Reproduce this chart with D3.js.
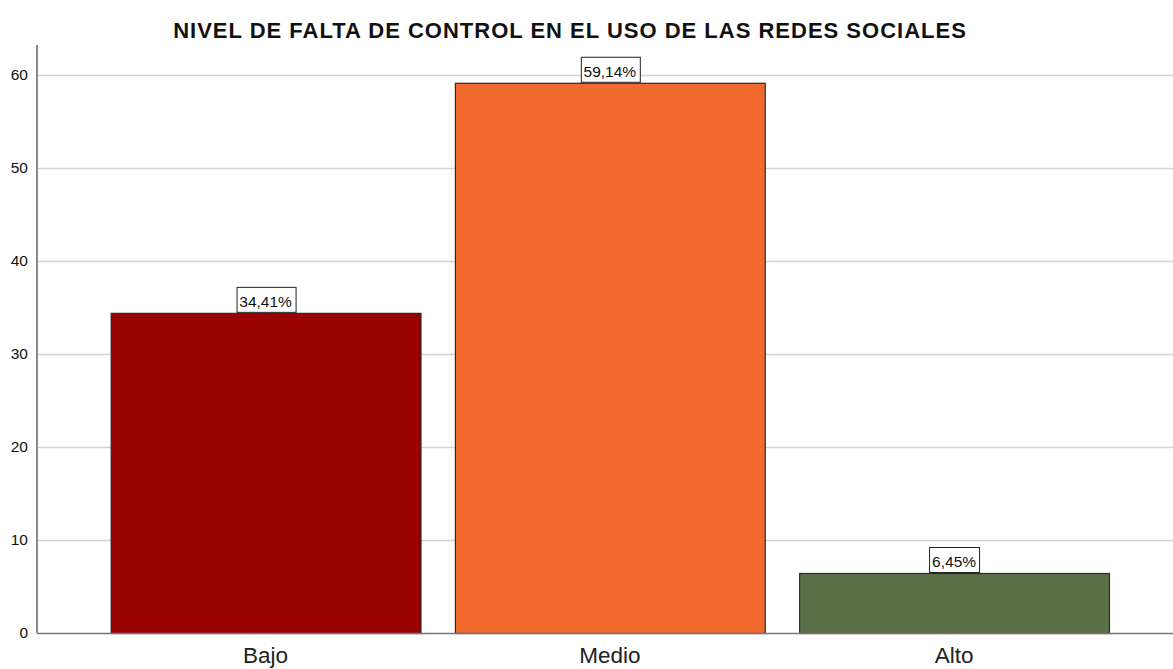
<!DOCTYPE html>
<html><head><meta charset="utf-8">
<script src="https://cdn.jsdelivr.net/npm/d3@7"></script>
<style>body{margin:0;background:#fff}svg{display:block}</style>
</head><body>
<svg id="c" width="1173" height="669"></svg>
<script>
const categories = ["Bajo", "Medio", "Alto"];
const values = [34.41, 59.14, 6.45];
const labels = ["34,41%", "59,14%", "6,45%"];
const colors = ["#990000", "#f26a2d", "#5b7047"];
const yTicks = [0, 10, 20, 30, 40, 50, 60];
const title = "NIVEL DE FALTA DE CONTROL EN EL USO DE LAS REDES SOCIALES";

(function() {
const svg = d3.select("#c");
const FONT = "Arial, 'Liberation Sans', sans-serif";
const pL = 37, pR = 1173, pT = 45, pB = 633;
const x = d3.scaleBand().domain(categories).range([pL, pR]).paddingInner(0.1).paddingOuter(0.2).align(0.535);
const y = d3.scaleLinear().domain([0, 63.2]).range([pB, pT]);

// gridlines
svg.append("g").selectAll("line").data(yTicks.filter(d => d > 0)).join("line")
  .attr("x1", pL).attr("x2", pR)
  .attr("y1", d => Math.round(y(d)) + 0.5).attr("y2", d => Math.round(y(d)) + 0.5)
  .attr("stroke", "#d4d4d4").attr("stroke-width", 1.5);

// y axis
const ya = svg.append("g").attr("transform", `translate(${pL},0)`)
  .call(d3.axisLeft(y).tickValues(yTicks).tickSize(0).tickPadding(9));
ya.select(".domain").remove();
ya.selectAll("text").attr("font-family", FONT).attr("font-size", 15.5).attr("fill", "#111");
svg.append("line").attr("x1", pL).attr("x2", pL).attr("y1", pT).attr("y2", pB)
  .attr("stroke", "#888").attr("stroke-width", 2);

// bars
svg.append("g").selectAll("rect").data(values).join("rect")
  .attr("x", (d, i) => x(categories[i]) + 0.5)
  .attr("y", d => y(d) + 0.5)
  .attr("width", x.bandwidth())
  .attr("height", d => y(0) - y(d))
  .attr("fill", (d, i) => colors[i])
  .attr("stroke", "#2a2a2a").attr("stroke-width", 1.2);

// baseline
svg.append("line").attr("x1", pL).attr("x2", pR).attr("y1", pB + 0.5).attr("y2", pB + 0.5)
  .attr("stroke", "#777").attr("stroke-width", 1.5);

// x axis labels
const xa = svg.append("g").attr("transform", `translate(0,${pB})`)
  .call(d3.axisBottom(x).tickSize(0).tickPadding(0));
xa.select(".domain").remove();
xa.selectAll("text").attr("dy", null).attr("y", 30).attr("font-family", FONT).attr("font-size", 22.5).attr("fill", "#222");

// value labels with boxes
const lg = svg.append("g").selectAll("g").data(values).join("g")
  .attr("transform", (d, i) => `translate(${x(categories[i]) + x.bandwidth() / 2},${y(d)})`);
lg.each(function(d, i) {
  const g = d3.select(this);
  const t = g.append("text").text(labels[i])
    .attr("font-family", FONT).attr("font-size", 15.5)
    .attr("text-anchor", "middle").attr("y", -6).attr("fill", "#111");
  const bb = t.node().getBBox();
  g.insert("rect", "text").attr("x", Math.round(bb.x - 3) + 0.5).attr("y", -25.5)
    .attr("width", Math.round(bb.width + 6)).attr("height", 25)
    .attr("fill", "#fff").attr("stroke", "#222").attr("stroke-width", 1);
});

// title
svg.append("text").text(title).attr("x", 570).attr("y", 38)
  .attr("text-anchor", "middle").attr("font-family", FONT)
  .attr("font-weight", "bold").attr("font-size", 22).attr("letter-spacing", 1).attr("fill", "#111");
})();
</script>
</body></html>
